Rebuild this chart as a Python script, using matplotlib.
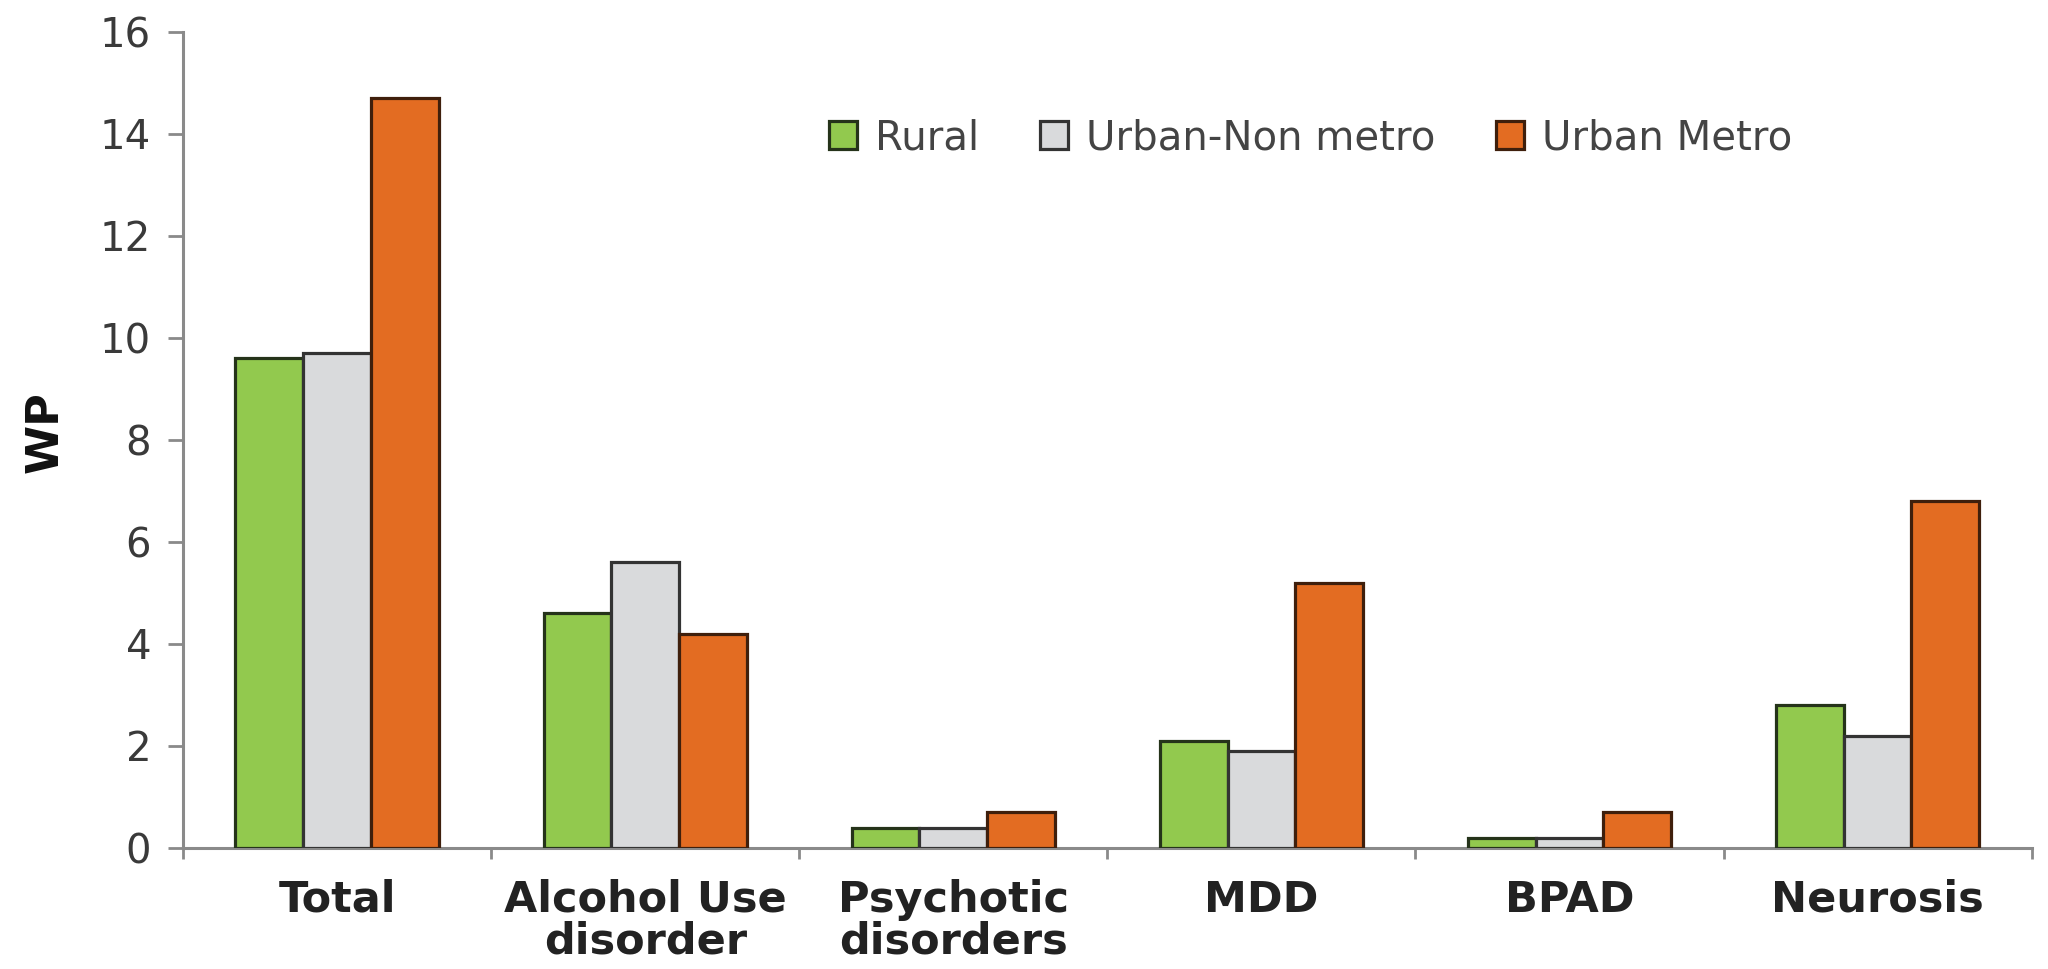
import numpy as np
import matplotlib
matplotlib.use("Agg")
import matplotlib.pyplot as plt

categories = ["Total", "Alcohol Use\ndisorder", "Psychotic\ndisorders", "MDD", "BPAD", "Neurosis"]
rural = [9.6, 4.6, 0.4, 2.1, 0.2, 2.8]
urban_non_metro = [9.7, 5.6, 0.4, 1.9, 0.2, 2.2]
urban_metro = [14.7, 4.2, 0.7, 5.2, 0.7, 6.8]
series_names = ["Rural", "Urban-Non metro", "Urban Metro"]
yticks = [0, 2, 4, 6, 8, 10, 12, 14, 16]

colors = ["#92c94e", "#d9dadc", "#e36c22"]
edges = ["#25331a", "#333333", "#3f1f0c"]

fig = plt.figure(figsize=(20.48, 9.69), dpi=100)
ax = fig.add_axes([0.0894, 0.1249, 0.9026, 0.8421])

x = np.arange(len(categories))
w = 0.22
for k, vals in enumerate([rural, urban_non_metro, urban_metro]):
    ax.bar(x + (k - 1) * w, vals, w, color=colors[k], edgecolor=edges[k],
           linewidth=2.3, label=series_names[k], zorder=3)

ax.set_xlim(-0.5, len(categories) - 0.5)
ax.set_ylim(0, 16)
ax.set_yticks(yticks)
ax.set_yticklabels([str(v) for v in yticks], fontsize=29, color="#3a3a3a")
ax.tick_params(axis="y", length=11, width=2, color="#8a8a8a", pad=12)

# group separators as ticks on the category axis
ax.set_xticks(np.arange(-0.5, len(categories), 1.0))
ax.set_xticklabels([])
ax.tick_params(axis="x", length=8, width=2, color="#8a8a8a", direction="out")
for xi, lab in zip(x, categories):
    ax.text(xi, -0.6, lab, ha="center", va="top", fontsize=31, fontweight="bold",
            color="#222222", linespacing=1.0)

for s in ["top", "right"]:
    ax.spines[s].set_visible(False)
for s in ["left", "bottom"]:
    ax.spines[s].set_color("#8a8a8a")
    ax.spines[s].set_linewidth(2.2)

ax.set_ylabel("WP", fontsize=32, fontweight="bold", color="#111111")
ax.yaxis.set_label_coords(-0.063, 0.51)

leg = ax.legend(loc="center", bbox_to_anchor=(0.61, 0.87), ncol=3, frameon=False,
                prop={"size": 29}, handlelength=0.7, handleheight=0.7,
                handletextpad=0.45, columnspacing=1.5)
for t in leg.get_texts():
    t.set_color("#444444")

fig.savefig("out.png", dpi=100, facecolor="white")
